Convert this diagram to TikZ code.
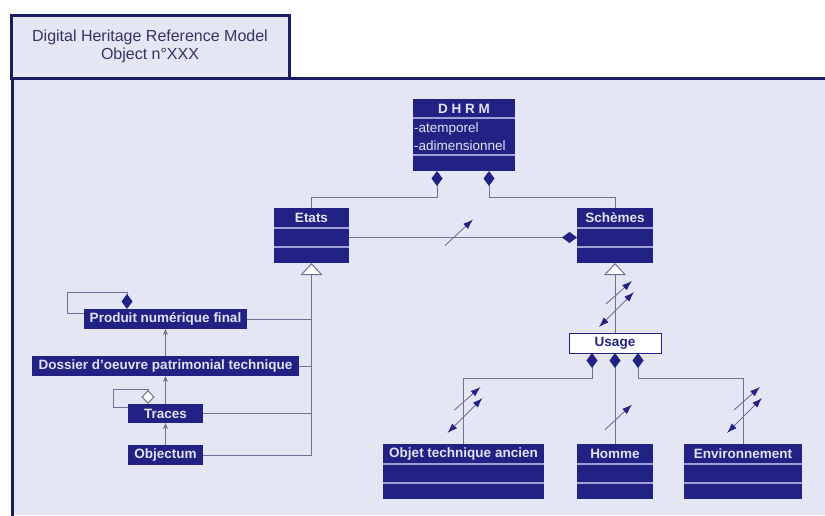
\documentclass[tikz,border=0pt]{standalone}
\usepackage{fontspec}
\setmainfont{Liberation Sans}
\usetikzlibrary{arrows.meta,calc}

\definecolor{navy}{RGB}{34,34,132}
\definecolor{bgcol}{RGB}{228,230,244}
\definecolor{sepcol}{RGB}{160,160,212}
\definecolor{linecol}{RGB}{112,112,150}
\definecolor{framecol}{RGB}{28,28,100}
\definecolor{headcol}{RGB}{226,226,244}
\definecolor{titlecol}{RGB}{52,52,96}

\tikzset{
  clshead/.style={fill=navy, text=headcol, font=\bfseries\fontsize{13.5}{15}\selectfont,
    minimum height=20pt, inner sep=0pt, outer sep=0pt},
  clsbody/.style={fill=navy, inner sep=0pt, outer sep=0pt},
  sepline/.style={draw=sepcol, line width=1.5pt},
  singlebox/.style={clshead, anchor=north west},
  usagebox/.style={fill=white, draw=navy, line width=1pt, text=navy,
    font=\bfseries\fontsize{13.5}{15}\selectfont, minimum width=92pt, minimum height=20pt,
    inner sep=0pt, outer sep=0pt},
  tabbox/.style={draw=framecol, line width=3pt, fill=bgcol, text=titlecol, align=center,
    font=\fontsize{16}{18}\selectfont, minimum width=278pt, minimum height=63pt},
  conn/.style={draw=linecol, line width=1pt},
  comp/.style={conn, {Diamond[length=15pt,width=11pt,fill=navy,color=navy]}-},
  agg/.style={conn, {Diamond[length=14pt,width=13pt,fill=white]}-},
  gen/.style={conn, -{Triangle[length=12pt,width=22pt,fill=white]}},
  dep/.style={conn, -{Stealth[length=6pt,width=5pt]}},
  nav/.style={draw=linecol, line width=0.9pt, -{Latex[length=10pt,width=7pt,color=navy]}},
  navboth/.style={nav, {Latex[length=10pt,width=7pt,color=navy]}-{Latex[length=10pt,width=7pt,color=navy]}}
}

% class with title and two empty compartments
\newcommand{\umlclass}[4]{%
  \node[clshead, minimum width=#3, anchor=north west] (#1) at (#2) {#4};
  \node[clsbody, minimum width=#3, minimum height=19pt, anchor=north] (#1-b) at (#1.south) {};
  \node[clsbody, minimum width=#3, minimum height=16pt, anchor=north] (#1-c) at (#1-b.south) {};
  \draw[sepline] (#1-b.north west) -- (#1-b.north east) (#1-c.north west) -- (#1-c.north east);}

\begin{document}
\begin{tikzpicture}[x=1pt,y=-1pt]
  \useasboundingbox (0,0) rectangle (825,515);
  \fill[bgcol] (12,78) rectangle (825,515);
  \draw[framecol, line width=3pt] (12,516) -- (12,78) -- (826,78);
  \node[tabbox] (tab) at (150,46.5) {Digital Heritage Reference Model\\Object n°XXX};

  % DHRM
  \node[clshead, minimum width=102, minimum height=19pt, anchor=north west] (dhrm) at (413,99) {D H R M};
  \node[clsbody, minimum width=102, minimum height=37pt, anchor=north, text=headcol,
    text width=100pt, align=left, font=\fontsize{13.5}{18}\selectfont] (dhrm-b) at (dhrm.south) {-atemporel\\-adimensionnel};
  \node[clsbody, minimum width=102, minimum height=16pt, anchor=north] (dhrm-c) at (dhrm-b.south) {};
  \draw[sepline] (dhrm-b.north west) -- (dhrm-b.north east) (dhrm-c.north west) -- (dhrm-c.north east);

  \umlclass{etats}{274,208}{75}{Etats}
  \umlclass{schemes}{577,208}{76}{Schèmes}
  \umlclass{objet}{383,444}{161}{Objet technique ancien}
  \umlclass{homme}{577,444}{76}{Homme}
  \umlclass{env}{684,444}{118}{Environnement}

  \node[singlebox, minimum width=163] (produit) at (84,309) {Produit numérique final};
  \node[singlebox, minimum width=267] (dossier) at (32,356) {Dossier d'oeuvre patrimonial technique};
  \node[singlebox, minimum width=75, minimum height=19pt] (traces) at (128,404) {Traces};
  \node[singlebox, minimum width=75] (objectum) at (128,445) {Objectum};
  \node[usagebox] (usage) at (615,343) {Usage};

  % DHRM composition
  \draw[comp] ([xshift=-27pt]dhrm-c.south) -- ++(0,26) -| (etats.north);
  \draw[comp] ([xshift=25pt]dhrm-c.south) -- ++(0,26) -| (schemes.north);
  \draw[comp] (schemes-b.west) -- coordinate[midway] (metat) (etats-b.east);
  \draw[nav] ($(metat)+(-18,8)$) -- ($(metat)+(10,-18)$);

  % generalisations
  \draw[gen] (objectum.east) -| (etats-c.south);
  \draw[conn] (traces.east) -- (traces.east -| etats-c.south);
  \draw[conn] (dossier.east) -- (dossier.east -| etats-c.south);
  \draw[conn] (produit.east) -- (produit.east -| etats-c.south);
  \draw[gen] (usage.north) -- coordinate[pos=0.4] (msch) (schemes-c.south);
  \draw[nav] ($(msch)+(-9,-1)$) -- ($(msch)+(17,-24)$);
  \draw[navboth] ($(msch)+(-16,22)$) -- ($(msch)+(19,-13)$);

  % chain
  \draw[dep] (objectum.north) -- (traces.south);
  \draw[dep] (traces.north) -- (dossier.south);
  \draw[dep] (dossier.north) -- (produit.south);
  \draw[comp] ($(produit.north west)+(43,0)$) -- ++(0,-17) -| ($(produit.north west)+(-17,4)$) -- ($(produit.north west)+(0,4)$);
  \draw[agg] ($(traces.north west)+(20,0)$) -- ++(0,-15) -| ($(traces.north west)+(-15,3)$) -- ($(traces.north west)+(0,3)$);

  % usage
  \draw[comp] ([xshift=-23pt]usage.south) -- ++(0,25) -| coordinate[pos=0.75] (mobj) (objet.north);
  \draw[comp] (usage.south) -- coordinate[pos=0.71] (mhom) (homme.north);
  \draw[comp] ([xshift=23pt]usage.south) -- ++(0,25) -| coordinate[pos=0.75] (menv) (env.north);
  \draw[nav] ($(mobj)+(-9,-1)$) -- ($(mobj)+(17,-24)$);
  \draw[navboth] ($(mobj)+(-16,22)$) -- ($(mobj)+(19,-13)$);
  \draw[nav] ($(mhom)+(-10,12)$) -- ($(mhom)+(17,-13)$);
  \draw[nav] ($(menv)+(-9,-1)$) -- ($(menv)+(17,-24)$);
  \draw[navboth] ($(menv)+(-16,22)$) -- ($(menv)+(19,-13)$);
\end{tikzpicture}
\end{document}
